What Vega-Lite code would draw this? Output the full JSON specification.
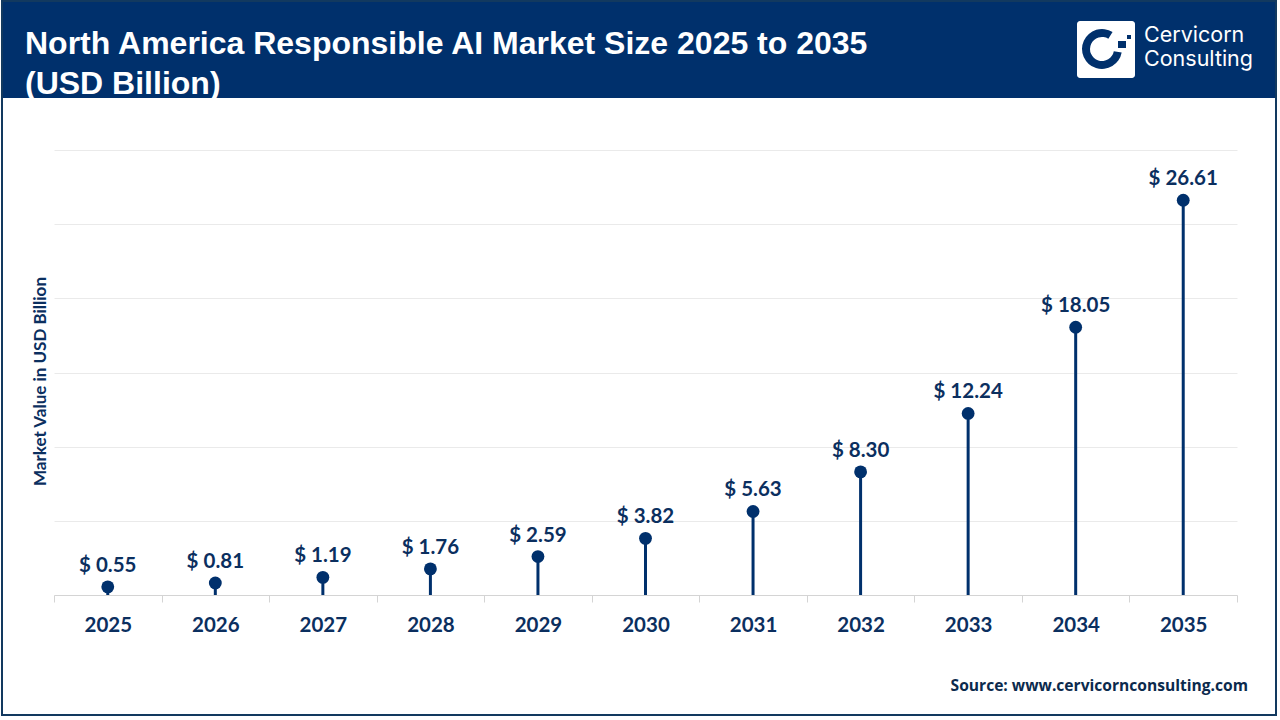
{
  "$schema": "https://vega.github.io/schema/vega-lite/v6.json",
  "width": 1183,
  "height": 445,
  "autosize": {"type": "none"},
  "padding": {"left": 54, "top": 150, "right": 43, "bottom": 125},
  "background": "white",
  "config": {"view": {"stroke": null}},
  "title": {
    "text": ["North America Responsible AI Market Size 2025 to 2035", "(USD Billion)"],
    "anchor": "start",
    "frame": "group",
    "dx": -29,
    "offset": -101,
    "font": "Liberation Sans",
    "fontSize": 32,
    "fontWeight": "bold",
    "color": "white",
    "lineHeight": 40
  },
  "layer": [
    {
      "data": {"values": [{"part": "page"}]},
      "layer": [
        {
          "mark": {"type": "rect", "color": "#00306c"},
          "encoding": {
            "x": {"datum": 1, "type": "quantitative", "axis": null, "scale": {"domain": [0, 1280], "range": [-54, 1226], "nice": false}},
            "x2": {"datum": 1277},
            "y": {"datum": 1, "type": "quantitative", "axis": null, "scale": {"domain": [0, 720], "range": [-150, 570], "nice": false}},
            "y2": {"datum": 98}
          }
        },
        {
          "mark": {"type": "rect", "filled": false, "stroke": "#12395f", "strokeWidth": 2},
          "encoding": {
            "x": {"datum": 2, "type": "quantitative", "axis": null},
            "x2": {"datum": 1276},
            "y": {"datum": 1, "type": "quantitative", "axis": null},
            "y2": {"datum": 715}
          }
        },
        {
          "mark": {"type": "rect", "color": "white", "cornerRadius": 3},
          "encoding": {
            "x": {"datum": 1077, "type": "quantitative", "axis": null},
            "x2": {"datum": 1135},
            "y": {"datum": 21, "type": "quantitative", "axis": null},
            "y2": {"datum": 78}
          }
        },
        {
          "mark": {"type": "arc", "color": "#00306c", "theta": 1.75, "theta2": 6.84, "radius": 20, "radius2": 12},
          "encoding": {
            "x": {"datum": 1102, "type": "quantitative", "axis": null},
            "y": {"datum": 49, "type": "quantitative", "axis": null}
          }
        },
        {
          "mark": {"type": "rect", "color": "#00306c"},
          "encoding": {
            "x": {"datum": 1127, "type": "quantitative", "axis": null},
            "x2": {"datum": 1131},
            "y": {"datum": 35, "type": "quantitative", "axis": null},
            "y2": {"datum": 39}
          }
        },
        {
          "mark": {"type": "rect", "color": "#00306c"},
          "encoding": {
            "x": {"datum": 1118, "type": "quantitative", "axis": null},
            "x2": {"datum": 1126},
            "y": {"datum": 41, "type": "quantitative", "axis": null},
            "y2": {"datum": 48}
          }
        },
        {
          "mark": {"type": "text", "text": "Cervicorn", "align": "left", "baseline": "middle", "font": "Inter", "fontSize": 21.5, "color": "white"},
          "encoding": {
            "x": {"datum": 1144, "type": "quantitative", "axis": null},
            "y": {"datum": 36, "type": "quantitative", "axis": null}
          }
        },
        {
          "mark": {"type": "text", "text": "Consulting", "align": "left", "baseline": "middle", "font": "Inter", "fontSize": 21.5, "color": "white"},
          "encoding": {
            "x": {"datum": 1144, "type": "quantitative", "axis": null},
            "y": {"datum": 60, "type": "quantitative", "axis": null}
          }
        },
        {
          "mark": {"type": "text", "text": "Source: www.cervicornconsulting.com", "align": "right", "baseline": "middle", "font": "Open Sans", "fontWeight": "bold", "fontSize": 15.6, "color": "#0b2a4d"},
          "encoding": {
            "x": {"datum": 1248, "type": "quantitative", "axis": null},
            "y": {"datum": 686, "type": "quantitative", "axis": null}
          }
        }
      ]
    },
    {
      "data": {
        "values": [
          {"year": "2025", "value": 0.55, "label": "$ 0.55"},
          {"year": "2026", "value": 0.81, "label": "$ 0.81"},
          {"year": "2027", "value": 1.19, "label": "$ 1.19"},
          {"year": "2028", "value": 1.76, "label": "$ 1.76"},
          {"year": "2029", "value": 2.59, "label": "$ 2.59"},
          {"year": "2030", "value": 3.82, "label": "$ 3.82"},
          {"year": "2031", "value": 5.63, "label": "$ 5.63"},
          {"year": "2032", "value": 8.30, "label": "$ 8.30"},
          {"year": "2033", "value": 12.24, "label": "$ 12.24"},
          {"year": "2034", "value": 18.05, "label": "$ 18.05"},
          {"year": "2035", "value": 26.61, "label": "$ 26.61"}
        ]
      },
      "encoding": {
        "x": {
          "field": "year",
          "type": "nominal",
          "title": null,
          "scale": {"type": "band", "paddingInner": 0, "paddingOuter": 0},
          "axis": {
            "labelAngle": 0,
            "labelFont": "Lato",
            "labelFontSize": 20.5,
            "labelFontWeight": "bold",
            "labelColor": "#0b2f5f",
            "labelPadding": 13,
            "tickBand": "extent",
            "tickSize": 7,
            "tickColor": "#d4d4d4",
            "domainColor": "#d4d4d4",
            "grid": false
          }
        },
        "y": {
          "field": "value",
          "type": "quantitative",
          "title": "Market Value in USD Billion",
          "scale": {"domain": [0, 30], "nice": false},
          "axis": {
            "values": [0, 5, 10, 15, 20, 25, 30],
            "labels": false,
            "ticks": false,
            "domain": false,
            "grid": true,
            "gridColor": "#eaeaea",
            "titleFont": "Lato",
            "titleFontSize": 17,
            "titleFontWeight": "bold",
            "titleColor": "#0b2f5f",
            "titlePadding": 5,
            "titleY": 231
          }
        }
      },
      "layer": [
        {"mark": {"type": "rule", "color": "#00306c", "strokeWidth": 3}, "encoding": {"y2": {"datum": 0}}},
        {"mark": {"type": "point", "filled": true, "opacity": 1, "color": "#00306c", "size": 165}},
        {
          "mark": {"type": "text", "dy": -21, "font": "Lato", "fontSize": 20.5, "fontWeight": "bold", "color": "#0b2f5f"},
          "encoding": {"text": {"field": "label", "type": "nominal"}}
        }
      ]
    }
  ],
  "resolve": {"scale": {"x": "independent", "y": "independent"}}
}
